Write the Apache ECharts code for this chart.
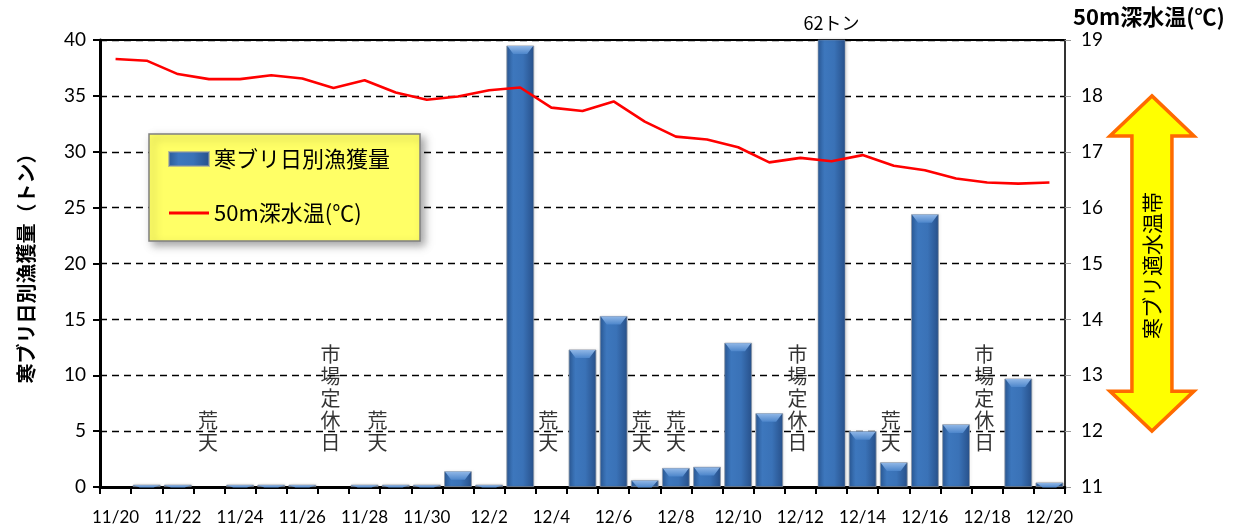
<!DOCTYPE html>
<html><head><meta charset="utf-8">
<script src="https://cdn.jsdelivr.net/npm/echarts@6/dist/echarts.min.js"></script>
<style>html,body{margin:0;padding:0;background:#fff}#c{width:1247px;height:529px}</style>
</head><body><div id="c"></div>
<script>
const categories = ['11/20','11/21','11/22','11/23','11/24','11/25','11/26','11/27','11/28','11/29','11/30','12/1','12/2','12/3','12/4','12/5','12/6','12/7','12/8','12/9','12/10','12/11','12/12','12/13','12/14','12/15','12/16','12/17','12/18','12/19','12/20'];
const catchTons = [null,0.2,0.2,null,0.2,0.2,0.2,null,0.2,0.2,0.2,1.4,0.2,39.5,null,12.3,15.3,0.6,1.7,1.8,12.9,6.6,null,62,5.0,2.2,24.4,5.6,null,9.7,0.4];
const waterTemp = [18.66,18.63,18.39,18.30,18.30,18.37,18.31,18.14,18.28,18.06,17.93,17.99,18.10,18.15,17.79,17.73,17.90,17.54,17.27,17.22,17.08,16.81,16.89,16.83,16.94,16.75,16.67,16.52,16.45,16.43,16.45];
const leftTicks = {min:0, max:40, interval:5};
const rightTicks = {min:11, max:19, interval:1};
const noteCats = ['11/23','11/27','11/28','12/4','12/7','12/8','12/12','12/15','12/18'];
const noteTexts = ['荒天','市場定休日','荒天','荒天','荒天','荒天','市場定休日','荒天','市場定休日'];
const noteShift = [-1,-3,13,-3,-3,0,-3,-3,-3];
const bandRange = [12, 18];
const bandText = '寒ブリ適水温帯';
const seriesNames = ['寒ブリ日別漁獲量','50m深水温(℃)'];
const leftAxisName = '寒ブリ日別漁獲量（トン）';
const rightAxisName = '50m深水温(℃)';

const JP = '"Noto Sans CJK JP", sans-serif';
const NUM = 'Lato, "Noto Sans CJK JP", sans-serif';
const chart = echarts.init(document.getElementById('c'), null, {renderer:'canvas'});

const barColor = new echarts.graphic.LinearGradient(0,0,1,0,[
  {offset:0,color:'#2b5a97'},{offset:0.25,color:'#3d77bd'},{offset:0.6,color:'#3a72b7'},{offset:1,color:'#27508a'}]);
const BAR_FRAC = 0.89;

const option = {
  animation:false,
  backgroundColor:'#fff',
  grid:{left:100,right:182,top:40,bottom:42,show:true,borderColor:'#000',borderWidth:2,backgroundColor:'transparent'},
  legend:{
    orient:'vertical', left:149, top:134,
    data:[{name:seriesNames[0],icon:'rect'},{name:seriesNames[1],icon:'path://M0,0L40,0L40,3L0,3Z'}],
    itemWidth:40, itemHeight:14, itemGap:32, symbolKeepAspect:true,
    padding:[14,30,17,19],
    backgroundColor:'#ffff66', borderColor:'#808080', borderWidth:1.5,
    shadowColor:'rgba(0,0,0,0.35)', shadowBlur:8, shadowOffsetX:4, shadowOffsetY:4,
    textStyle:{fontFamily:JP,fontSize:22,color:'#000'}
  },
  xAxis:{
    type:'category', data:categories, boundaryGap:true,
    axisLine:{lineStyle:{color:'#000',width:3}},
    axisTick:{show:true,interval:0,length:7,lineStyle:{color:'#000',width:2}},
    axisLabel:{interval:1,fontFamily:NUM,fontSize:17,color:'#000',margin:22}
  },
  yAxis:[{
    type:'value', min:leftTicks.min, max:leftTicks.max, interval:leftTicks.interval,
    name:leftAxisName, nameLocation:'middle', nameGap:64, nameRotate:90,
    nameTextStyle:{fontFamily:JP,fontSize:20,fontWeight:'bold',color:'#000'},
    axisLine:{show:true,lineStyle:{color:'#000',width:3}},
    axisTick:{show:true,length:7,lineStyle:{color:'#000',width:2}},
    axisLabel:{fontFamily:NUM,fontSize:19,color:'#000',margin:14},
    splitLine:{show:true,lineStyle:{color:'#000',type:[7,5],width:1.3}}
  },{
    type:'value', min:rightTicks.min, max:rightTicks.max, interval:rightTicks.interval, position:'right',
    name:rightAxisName, nameLocation:'end', nameGap:12,
    nameTextStyle:{fontFamily:JP,fontSize:22,fontWeight:'bold',color:'#000',align:'left',padding:[0,0,0,8]},
    axisLine:{show:true,lineStyle:{color:'#333',width:2}},
    axisTick:{show:true,length:6,lineStyle:{color:'#999',width:1}},
    axisLabel:{fontFamily:NUM,fontSize:19,color:'#000',margin:16},
    splitLine:{show:false}
  }],
  series:[{
    name:seriesNames[0], type:'bar', yAxisIndex:0, data:catchTons.map((v,i)=>{
      if (v!==null && v>leftTicks.max) return {value:v,label:{show:true,position:'top',distance:7,formatter:'{c}トン',fontFamily:JP,fontSize:18,color:'#000'}};
      return v;
    }),
    barCategoryGap:'11%',
    itemStyle:{color:barColor,borderColor:'rgba(140,150,165,0.6)',borderWidth:0.8,shadowColor:'rgba(0,0,0,0.2)',shadowBlur:3,shadowOffsetX:1},
    z:2
  },{
    name:'bevel', type:'custom', yAxisIndex:0, silent:true, z:3,
    data:catchTons.map((v,i)=>[i, v===null ? 0 : v]),
    renderItem:function(params, api){
      const v = api.value(1);
      if (!v || v > leftTicks.max) return null;
      const top = api.coord([api.value(0), v]);
      const base = api.coord([api.value(0), 0]);
      const w = api.size([1,0])[0]*BAR_FRAC;
      const h = Math.min(8, base[1]-top[1]);
      const x0 = top[0]-w/2+1, x1 = top[0]+w/2-1, y0 = top[1]+0.5;
      return {type:'polygon', shape:{points:[[x0,y0],[x1,y0],[x1-6,y0+h],[x0+6,y0+h]]},
        style:{fill:new echarts.graphic.LinearGradient(0,0,0,1,[{offset:0,color:'#8fb6e6'},{offset:1,color:'#4d86cb'}])}};
    }
  },{
    name:seriesNames[1], type:'line', yAxisIndex:1, data:waterTemp,
    symbol:'none', showSymbol:false, smooth:false,
    lineStyle:{color:'#ff0000',width:2.6}, itemStyle:{color:'#ff0000'}, z:4
  },{
    name:'notes', type:'scatter', yAxisIndex:0, symbolSize:0, silent:true, z:5,
    data:noteCats.map((c,i)=>({value:[c,3],label:{formatter:noteTexts[i].split('').join('\n'),offset:[noteShift[i],0]}})),
    label:{show:true,position:'top',distance:0,fontFamily:JP,fontSize:20,lineHeight:22,color:'#000',align:'center'}
  }]
};
chart.setOption(option);

function drawBand(){
  const yTop = chart.convertToPixel({yAxisIndex:1}, bandRange[1]);
  const yBot = chart.convertToPixel({yAxisIndex:1}, bandRange[0]);
  const gridRight = chart.convertToPixel({xAxisIndex:0}, categories[categories.length-1]) + 15.5;
  const cx = gridRight + 87, headW = 42, shaftW = 20, headH = 40;
  const pts = [
    [cx, yTop],[cx+headW, yTop+headH],[cx+shaftW, yTop+headH],[cx+shaftW, yBot-headH],
    [cx+headW, yBot-headH],[cx, yBot],[cx-headW, yBot-headH],[cx-shaftW, yBot-headH],
    [cx-shaftW, yTop+headH],[cx-headW, yTop+headH]
  ];
  chart.setOption({graphic:[
    {type:'polygon',shape:{points:pts},style:{fill:'#ffff00',stroke:'#ff6a00',lineWidth:3.5,lineJoin:'miter'},z:10},
    {type:'text',x:cx,y:(yTop+yBot)/2+2,rotation:Math.PI/2,style:{text:bandText,fontFamily:JP,fontSize:21,fill:'#000',align:'center',verticalAlign:'middle'},z:11}
  ]});
}
drawBand();
</script>
</body></html>
